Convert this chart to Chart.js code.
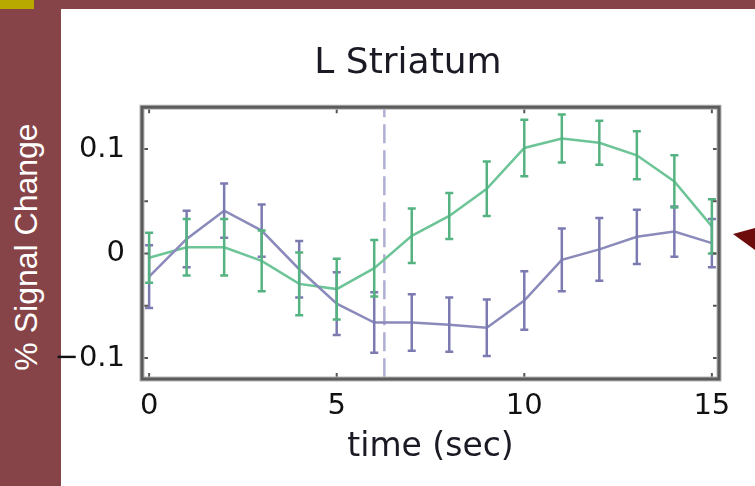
<!DOCTYPE html>
<html>
<head>
<meta charset="utf-8">
<script src="https://cdn.jsdelivr.net/npm/chart.js@4"></script>
<style>
  html, body { margin: 0; padding: 0; background: #fff; }
  #page { position: relative; width: 755px; height: 486px; overflow: hidden; background: #fff; }
  .bar-top { position: absolute; left: 0; top: 0; width: 755px; height: 9px; background: #874448; }
  .bar-left { position: absolute; left: 0; top: 0; width: 61px; height: 486px; background: #874448; }
  .badge { position: absolute; left: 0; top: 0; width: 34px; height: 9px; background: #b9aa00; }
  .ylabel {
    position: absolute; left: 26px; top: 247px;
    transform: translate(-50%, -50%) rotate(-90deg);
    color: #fff; font: 32px "Liberation Sans", Arial, sans-serif;
    line-height: 1; white-space: nowrap;
  }
  .pointer {
    position: absolute; left: 0; top: 0; width: 755px; height: 486px;
    background: #6e0b0b;
    clip-path: polygon(733px 234px, 755px 228px, 755px 250px);
  }
  canvas { position: absolute; left: 0; top: 0; }
</style>
</head>
<body>
<div id="page">
  <div class="bar-top"></div>
  <div class="bar-left"></div>
  <div class="badge"></div>
  <div class="ylabel">% Signal Change</div>
  <div class="pointer"></div>
  <canvas id="striatum" width="755" height="486"></canvas>
</div>
<script>
// time points (sec)
const times = [0, 1, 2, 3, 4, 5, 6, 7, 8, 9, 10, 11, 12, 13, 14, 15];

// green condition: mean % signal change and half-height of error bar
const greenMean = [-0.004, 0.006, 0.006, -0.007, -0.029, -0.034, -0.014, 0.017, 0.036, 0.062, 0.101, 0.110, 0.106, 0.094, 0.069, 0.026];
const greenErr  = [0.024, 0.027, 0.027, 0.029, 0.030, 0.029, 0.027, 0.026, 0.022, 0.026, 0.027, 0.023, 0.021, 0.023, 0.025, 0.026];

// purple condition
const purpleMean = [-0.022, 0.014, 0.041, 0.022, -0.015, -0.048, -0.066, -0.066, -0.068, -0.071, -0.045, -0.006, 0.004, 0.016, 0.021, 0.010];
const purpleErr  = [0.030, 0.027, 0.026, 0.025, 0.027, 0.030, 0.029, 0.027, 0.026, 0.027, 0.028, 0.030, 0.030, 0.026, 0.024, 0.023];

// axis ticks
const xTicks = [0, 5, 10, 15];
const yTicks = [-0.1, -0.05, 0, 0.05, 0.1];
const yLabelled = [-0.1, 0, 0.1];

// dashed marker
const onsetTime = 6.27;

const toPoints = (vals) => vals.map((v, i) => ({ x: times[i], y: v }));

const fmtY = (v) => {
    if (!yLabelled.includes(v)) return '';
    if (v < 0) return '\u2212' + Math.abs(v);
    return String(v);
};

// frame, inside ticks, dashed onset line and error bars
const decorations = {
    id: 'decorations',
    afterLayout(chart) {
        // the title sits a bit left of the plot centre in the original
        if (chart.titleBlock) chart.titleBlock.left = 97;
    },
    beforeDatasetsDraw(chart) {
        const { ctx, chartArea: a, scales: { x } } = chart;
        const px = x.getPixelForValue(onsetTime);
        ctx.save();
        ctx.strokeStyle = '#afafd3';
        ctx.lineWidth = 2.5;
        ctx.setLineDash([19, 7]);
        ctx.lineDashOffset = 9;
        ctx.beginPath();
        ctx.moveTo(px, a.top);
        ctx.lineTo(px, a.bottom);
        ctx.stroke();
        ctx.restore();
    },
    afterDatasetsDraw(chart) {
        const { ctx, scales: { x, y } } = chart;
        ctx.save();
        chart.data.datasets.forEach(ds => {
            ctx.strokeStyle = ds.errColor;
            ctx.lineWidth = 2.5;
            ds.data.forEach((p, i) => {
                const cx = x.getPixelForValue(p.x);
                const top = y.getPixelForValue(p.y + ds.errors[i]);
                const bot = y.getPixelForValue(p.y - ds.errors[i]);
                ctx.beginPath();
                ctx.moveTo(cx, top); ctx.lineTo(cx, bot);
                ctx.moveTo(cx - 4, top); ctx.lineTo(cx + 4, top);
                ctx.moveTo(cx - 4, bot); ctx.lineTo(cx + 4, bot);
                ctx.stroke();
            });
        });
        ctx.restore();
    },
    afterDraw(chart) {
        const { ctx, chartArea: a, scales: { x, y } } = chart;
        ctx.save();
        // tick marks pointing inwards
        ctx.strokeStyle = '#555';
        ctx.lineWidth = 2;
        ctx.beginPath();
        yTicks.forEach(v => {
            const py = y.getPixelForValue(v);
            ctx.moveTo(a.left, py); ctx.lineTo(a.left + 6, py);
            ctx.moveTo(a.right, py); ctx.lineTo(a.right - 6, py);
        });
        xTicks.forEach(v => {
            const px = x.getPixelForValue(v);
            ctx.moveTo(px, a.top); ctx.lineTo(px, a.top + 6);
            ctx.moveTo(px, a.bottom); ctx.lineTo(px, a.bottom - 6);
        });
        ctx.stroke();
        // box
        ctx.strokeStyle = '#b5b5b5';
        ctx.lineWidth = 5;
        ctx.strokeRect(a.left, a.top, a.right - a.left, a.bottom - a.top);
        ctx.strokeStyle = '#5c5c5c';
        ctx.lineWidth = 3;
        ctx.strokeRect(a.left, a.top, a.right - a.left, a.bottom - a.top);
        ctx.restore();
    }
};

new Chart(document.getElementById('striatum'), {
    type: 'line',
    data: {
        datasets: [
            {
                label: 'purple',
                data: toPoints(purpleMean),
                errors: purpleErr,
                errColor: '#7b7bb2',
                borderColor: '#8a8abb',
                borderWidth: 2.5,
                pointRadius: 0,
                tension: 0
            },
            {
                label: 'green',
                data: toPoints(greenMean),
                errors: greenErr,
                errColor: '#55b381',
                borderColor: '#6cc497',
                borderWidth: 2.5,
                pointRadius: 0,
                tension: 0
            }
        ]
    },
    options: {
        responsive: false,
        animation: false,
        devicePixelRatio: 1,
        layout: { padding: { left: 0, right: 36, top: 0, bottom: 0 } },
        plugins: {
            legend: { display: false },
            tooltip: { enabled: false },
            title: {
                display: true,
                text: 'L Striatum',
                color: '#1a1a24',
                font: { family: 'DejaVu Sans', size: 36, weight: 'normal' },
                padding: { top: 42, bottom: 22 }
            }
        },
        scales: {
            x: {
                type: 'linear',
                min: -0.19,
                max: 15.19,
                afterBuildTicks: s => { s.ticks = xTicks.map(v => ({ value: v })); },
                afterFit: s => { s.height = 107; },
                grid: { display: false },
                border: { display: false },
                ticks: {
                    color: '#111',
                    font: { family: 'DejaVu Sans', size: 29 },
                    padding: 2,
                    maxRotation: 0,
                    autoSkip: false
                },
                title: {
                    display: true,
                    text: 'time (sec)',
                    color: '#1a1a24',
                    font: { family: 'DejaVu Sans', size: 33 },
                    padding: { top: 0, bottom: 19 }
                }
            },
            y: {
                min: -0.12,
                max: 0.14,
                afterBuildTicks: s => { s.ticks = yTicks.map(v => ({ value: v })); },
                afterFit: s => { s.width = 142; },
                grid: { display: false },
                border: { display: false },
                ticks: {
                    color: '#111',
                    font: { family: 'DejaVu Sans', size: 29 },
                    padding: 9,
                    autoSkip: false,
                    callback: (v) => fmtY(v)
                }
            }
        }
    },
    plugins: [decorations]
});
</script>
</body>
</html>
